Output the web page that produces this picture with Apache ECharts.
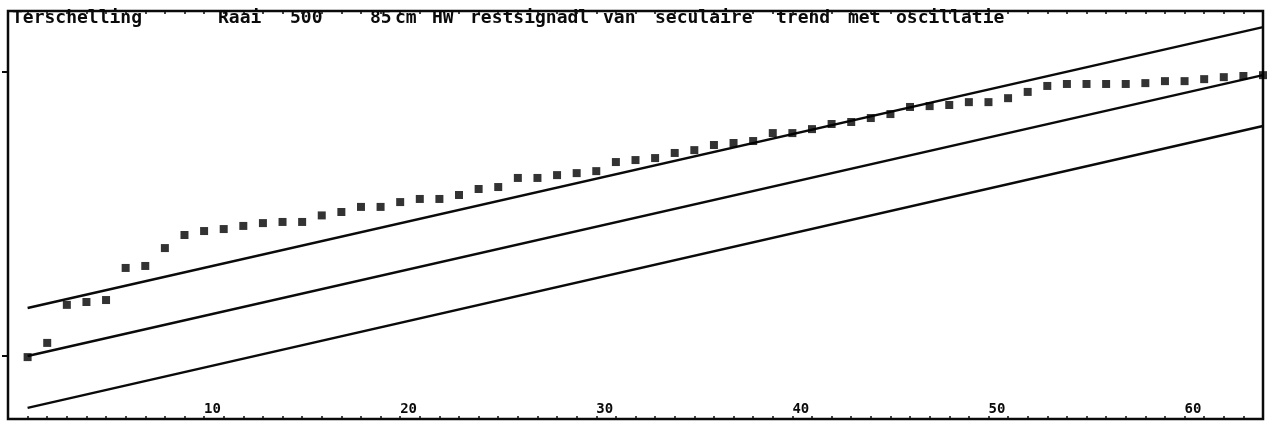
<!DOCTYPE html>
<html>
<head>
<meta charset="utf-8">
<script src="https://cdn.jsdelivr.net/npm/echarts@6/dist/echarts.min.js"></script>
<style>html,body{margin:0;padding:0;background:#fff;}#c{width:1275px;height:426px;}</style>
</head>
<body>
<div id="c"></div>
<script>
// Data
const years = [];
for (let i = 1; i <= 64; i++) years.push(i);
const residual = [-0.4, 4.6, 18.0, 19.0, 19.7, 31.0, 31.7, 38.0, 42.6, 44.0,
  44.7, 45.8, 46.8, 47.2, 47.2, 49.5, 50.7, 52.5, 52.5, 54.2,
  55.3, 55.3, 56.7, 58.8, 59.5, 62.7, 62.7, 63.7, 64.4, 65.1,
  68.3, 69.0, 69.7, 71.5, 72.5, 74.3, 75.0, 75.7, 78.5, 78.5,
  79.9, 81.7, 82.4, 83.8, 85.2, 87.7, 88.0, 88.4, 89.4, 89.4,
  90.8, 93.0, 95.1, 95.8, 95.8, 95.8, 95.8, 96.1, 96.8, 96.8,
  97.5, 98.2, 98.6, 98.9];
const lineX = [1, 64];
const upperLine = [16.9, 115.8];
const trendLine = [0.0, 98.9];
const lowerLine = [-18.3, 81.0];
const xTickLabels = [10, 20, 30, 40, 50, 60];
const yTicks = [0, 100];
const titleWords = [
  ['Terschelling', 12], ['Raai', 218], ['500', 290], ['85', 370], ['cm', 395], ['HW', 432],
  ['restsignadl', 470], ['van', 603], ['seculaire', 655], ['trend', 776], ['met', 848], ['oscillatie', 896]
];

const ink = '#0a0a0a';
const mono = '"DejaVu Sans Mono", "Liberation Mono", monospace';

function pairs(xs, ys) { return xs.map((x, i) => [x, ys[i]]); }
const lineStyle = { color: ink, width: 2.4 };

const chart = echarts.init(document.getElementById('c'), null, { renderer: 'canvas' });
chart.setOption({
  animation: false,
  backgroundColor: '#fff',
  grid: { left: 8, right: 12, top: 11, bottom: 7, show: true, borderColor: ink, borderWidth: 2.5, backgroundColor: 'transparent' },
  graphic: titleWords.map(w => ({
    type: 'text', left: w[1], top: 9, z: 100,
    style: { text: w[0], font: 'bold 18px ' + mono, fill: ink }
  })),
  xAxis: [{
    type: 'value', min: 0, max: 64, interval: 1, position: 'bottom',
    axisLine: { show: false, onZero: false },
    axisTick: { show: true, inside: true, length: 3, lineStyle: { color: ink, width: 1.5 } },
    axisLabel: {
      inside: true, margin: 3, align: 'left', verticalAlign: 'bottom',
      color: ink, fontFamily: mono, fontWeight: 'bold', fontSize: 14,
      formatter: v => (xTickLabels.indexOf(v) >= 0 ? String(v) : '')
    },
    splitLine: { show: false }
  }, {
    type: 'value', min: 0, max: 64, interval: 1, position: 'top',
    axisLine: { show: false, onZero: false },
    axisTick: { show: true, inside: true, length: 3, lineStyle: { color: ink, width: 1.5 } },
    axisLabel: { show: false },
    splitLine: { show: false }
  }],
  yAxis: {
    type: 'value', min: -22.2, max: 121.5,
    axisLine: { show: false, onZero: false },
    axisTick: { show: true, inside: false, length: 6, customValues: yTicks, lineStyle: { color: ink, width: 2 } },
    axisLabel: { show: false },
    splitLine: { show: false }
  },
  series: [
    { type: 'line', data: pairs(lineX, upperLine), symbol: 'none', lineStyle: lineStyle, silent: true },
    { type: 'line', data: pairs(lineX, trendLine), symbol: 'none', lineStyle: lineStyle, silent: true },
    { type: 'line', data: pairs(lineX, lowerLine), symbol: 'none', lineStyle: lineStyle, silent: true },
    { type: 'scatter', data: pairs(years, residual), symbol: 'rect', symbolSize: 8, itemStyle: { color: '#000' }, z: 5 }
  ]
});
</script>
</body>
</html>
